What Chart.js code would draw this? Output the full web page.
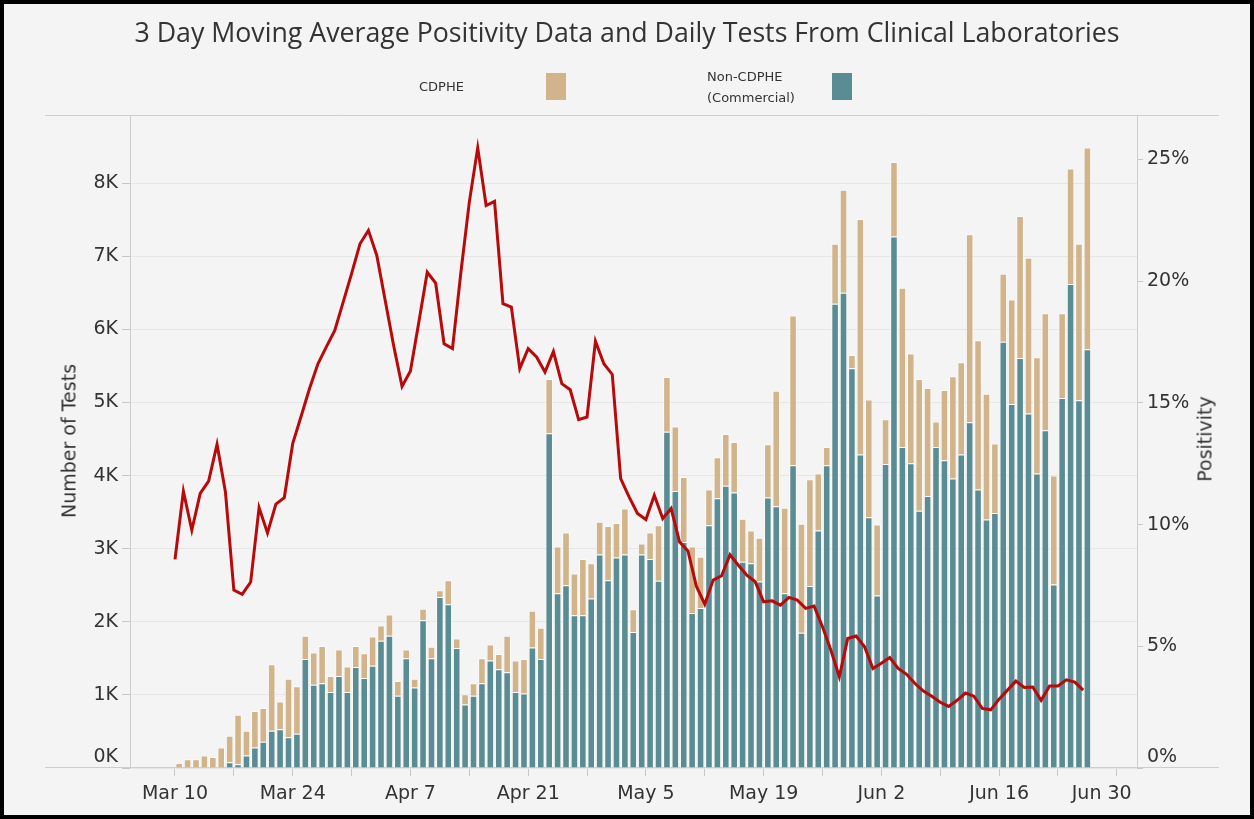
<!DOCTYPE html>
<html>
<head>
<meta charset="utf-8">
<script src="https://cdn.jsdelivr.net/npm/chart.js@4.4.1/dist/chart.umd.min.js"></script>
<style>
    html, body { margin: 0; padding: 0; background: #fff; }
    #frame { position: absolute; left: 0; top: 0; width: 1254px; height: 819px; box-sizing: border-box; border: 4px solid #000; background: #f4f4f4; }
    #chart { position: absolute; left: 0; top: 0; }
    .txt { position: absolute; color: #333; white-space: nowrap; font-family: "DejaVu Sans", sans-serif; }
    #title { left: 0; width: 1254px; top: 20px; text-align: center; font-family: "Open Sans", sans-serif; font-size: 23px; line-height: 23px; }
    .legendText { font-size: 13px; line-height: 21px; }
    .swatch { position: absolute; width: 20px; height: 27px; top: 73px; }
    .axisTitle { font-size: 19px; line-height: 19px; transform: translate(-50%, -50%) rotate(-90deg); }
</style>
</head>
<body>
<div id="frame"></div>
<canvas id="chart" width="1254" height="819"></canvas>
<div class="txt" id="title">3 Day Moving Average Positivity Data and Daily Tests From Clinical Laboratories</div>
<div class="txt legendText" style="left:419px; top:76px;">CDPHE</div>
<div class="swatch" style="left:546px; background:#d1b48a;"></div>
<div class="txt legendText" style="left:707px; top:66px;">Non-CDPHE<br>(Commercial)</div>
<div class="swatch" style="left:832px; background:#5a8c93;"></div>
<div class="txt axisTitle" style="left:69px; top:441px;">Number of Tests</div>
<div class="txt axisTitle" style="left:1205px; top:439px;">Positivity</div>

<script>
// daily tests, Mar 10 .. Jun 26 (one value per day)
const nonCdpheTests = [
    0, 0, 0, 0, 0, 0, 80, 50, 170, 280,
    360, 510, 530, 420, 470, 1490, 1140, 1160, 1040, 1260,
    1040, 1380, 1230, 1400, 1740, 1810, 990, 1500, 1100, 2020,
    1500, 2340, 2240, 1640, 870, 990, 1160, 1470, 1350, 1310,
    1040, 1020, 1650, 1490, 4580, 2390, 2500, 2090, 2090, 2320,
    2920, 2570, 2880, 2920, 1860, 2920, 2860, 2560, 4600, 3790,
    3090, 2120, 2190, 3320, 3690, 3860, 3770, 2820, 2800, 2550,
    3700, 3580, 2390, 4140, 1850, 2490, 3250, 4140, 6350, 6500,
    5470, 4290, 3430, 2360, 4160, 7270, 4390, 4170, 3520, 3720,
    4390, 4210, 3960, 4290, 4730, 3810, 3400, 3490, 5830, 4980,
    5610, 4850, 4030, 4620, 2510, 5060, 6620, 5030, 5730
];
const cdpheTests = [
    70, 120, 120, 170, 150, 280, 360, 680, 340, 500,
    460, 910, 380, 800, 650, 320, 440, 510, 220, 360,
    350, 290, 340, 400, 210, 290, 200, 120, 120, 160,
    160, 90, 330, 130, 140, 170, 340, 220, 210, 500,
    430, 470, 500, 430, 740, 640, 720, 570, 770, 480,
    450, 740, 470, 630, 310, 150, 360, 760, 750, 880,
    890, 910, 700, 490, 560, 710, 690, 590, 450, 600,
    730, 1580, 1170, 2050, 1490, 1460, 780, 250, 820, 1410,
    180, 3220, 1610, 970, 610, 1020, 2180, 1500, 1800, 1480,
    350, 960, 1400, 1260, 2570, 2040, 1720, 950, 930, 1430,
    1940, 2130, 1590, 1600, 1490, 1160, 1580, 2140, 2760
];
// 3 day moving average positivity, percent
const positivity = [
    8.57, 11.37, 9.77, 11.28, 11.79, 13.30, 11.34, 7.31, 7.14, 7.64,
    10.70, 9.66, 10.84, 11.11, 13.33, 14.45, 15.59, 16.61, 17.30, 17.98,
    19.14, 20.31, 21.54, 22.09, 21.06, 19.21, 17.36, 15.68, 16.31, 18.32,
    20.37, 19.92, 17.43, 17.23, 20.37, 23.25, 25.48, 23.11, 23.28, 19.08,
    18.94, 16.41, 17.23, 16.89, 16.27, 17.11, 15.79, 15.54, 14.31, 14.42,
    17.54, 16.61, 16.17, 11.89, 11.14, 10.46, 10.21, 11.21, 10.25, 10.66,
    9.29, 8.92, 7.47, 6.73, 7.72, 7.90, 8.76, 8.33, 7.92, 7.65,
    6.83, 6.87, 6.69, 7.01, 6.90, 6.56, 6.65, 5.80, 4.84, 3.75,
    5.32, 5.42, 4.98, 4.09, 4.30, 4.54, 4.09, 3.85, 3.47, 3.16,
    2.95, 2.70, 2.53, 2.78, 3.08, 2.95, 2.45, 2.39, 2.83, 3.20,
    3.57, 3.31, 3.33, 2.78, 3.37, 3.37, 3.62, 3.53, 3.20
];
// x axis: days since Mar 10
const xTickDays = [0, 7, 14, 21, 28, 35, 42, 49, 56, 63, 70, 77, 84, 91, 98, 105, 112];
const xTickLabels = ['Mar 10', '', 'Mar 24', '', 'Apr 7', '', 'Apr 21', '', 'May 5', '', 'May 19', '', 'Jun 2', '', 'Jun 16', '', 'Jun 30'];
const testTicks = [0, 1000, 2000, 3000, 4000, 5000, 6000, 7000, 8000];
const positivityTicks = [0, 5, 10, 15, 20, 25];

const tickFont = { family: 'DejaVu Sans', size: 19 };
const tickColor = '#333';

// fit the title to the width it takes in the reference
function fitTitle() {
    const el = document.getElementById('title');
    const c = document.createElement('canvas').getContext('2d');
    c.font = '23px "Open Sans"';
    const w = c.measureText(el.textContent).width;
    el.style.fontSize = (23 * 985 / w).toFixed(2) + 'px';
}

const frameLines = {
    id: 'frameLines',
    beforeDatasetsDraw(chart) {
        const { ctx, chartArea } = chart;
        ctx.save();
        ctx.strokeStyle = '#cdcdcd';
        ctx.lineWidth = 1;
        ctx.beginPath();
        ctx.moveTo(45, chartArea.top + 0.5);
        ctx.lineTo(1219, chartArea.top + 0.5);
        ctx.moveTo(45, chartArea.bottom - 0.5);
        ctx.lineTo(1219, chartArea.bottom - 0.5);
        ctx.moveTo(chartArea.left + 0.5, chartArea.top);
        ctx.lineTo(chartArea.left + 0.5, chartArea.bottom);
        ctx.moveTo(chartArea.right + 0.5, chartArea.top);
        ctx.lineTo(chartArea.right + 0.5, chartArea.bottom);
        ctx.stroke();
        ctx.restore();
    }
};

function drawChart() {
    const ctx = document.getElementById('chart').getContext('2d');
    new Chart(ctx, {
        data: {
            datasets: [
                {
                    type: 'line',
                    label: 'Positivity',
                    data: positivity.map((v, i) => ({ x: i, y: v })),
                    yAxisID: 'y1',
                    borderColor: '#b80a0a',
                    borderWidth: 3,
                    pointRadius: 0,
                    tension: 0,
                    order: 0
                },
                {
                    type: 'bar',
                    label: 'Non-CDPHE (Commercial)',
                    data: nonCdpheTests.map((v, i) => ({ x: i + 0.5, y: v })),
                    yAxisID: 'y',
                    stack: 'tests',
                    backgroundColor: '#5a8c93',
                    borderColor: 'rgba(255, 255, 255, 0.6)',
                    borderWidth: 1,
                    barPercentage: 0.9,
                    categoryPercentage: 1,
                    order: 1
                },
                {
                    type: 'bar',
                    label: 'CDPHE',
                    data: cdpheTests.map((v, i) => ({ x: i + 0.5, y: v })),
                    yAxisID: 'y',
                    stack: 'tests',
                    backgroundColor: '#d1b48a',
                    borderColor: 'rgba(255, 255, 255, 0.6)',
                    borderWidth: 1,
                    barPercentage: 0.9,
                    categoryPercentage: 1,
                    order: 1
                }
            ]
        },
        options: {
            responsive: false,
            animation: false,
            layout: { padding: { top: 115, left: 0, right: 0, bottom: 0 } },
            plugins: { legend: { display: false }, tooltip: { enabled: false } },
            scales: {
                x: {
                    type: 'linear',
                    min: -5.35,
                    max: 114.4,
                    offset: false,
                    stacked: true,
                    afterBuildTicks(scale) { scale.ticks = xTickDays.map(v => ({ value: v })); },
                    afterFit(scale) { scale.height = 819 - 768; },
                    ticks: {
                        autoSkip: false,
                        maxRotation: 0,
                        padding: 7,
                        font: tickFont,
                        color: tickColor,
                        callback: (v, i) => i === xTickLabels.length - 1 ? xTickLabels[i] + '     ' : xTickLabels[i]
                    },
                    grid: { offset: false, drawOnChartArea: false, tickLength: 8, tickColor: '#c8c8c8' },
                    border: { display: false }
                },
                y: {
                    position: 'left',
                    stacked: true,
                    min: 0,
                    max: 8933,
                    afterBuildTicks(scale) { scale.ticks = testTicks.map(v => ({ value: v })); },
                    afterFit(scale) { scale.width = 130; },
                    ticks: {
                        padding: 4,
                        font: tickFont,
                        color: tickColor,
                        callback: v => v === 0 ? ['0K', ''] : (v / 1000) + 'K'
                    },
                    grid: { color: '#e6e6e6', tickColor: '#c8c8c8', tickLength: 8 },
                    border: { display: false }
                },
                y1: {
                    position: 'right',
                    min: 0,
                    max: 26.83,
                    afterBuildTicks(scale) { scale.ticks = positivityTicks.map(v => ({ value: v })); },
                    afterFit(scale) { scale.width = 1254 - 1137; },
                    ticks: {
                        padding: 4,
                        font: tickFont,
                        color: tickColor,
                        callback: v => v === 0 ? ['0%', ''] : v + '%'
                    },
                    grid: { drawOnChartArea: false, tickColor: '#c8c8c8', tickLength: 6 },
                    border: { display: false }
                }
            }
        },
        plugins: [frameLines]
    });
}

fitTitle();
drawChart();
</script>
</body>
</html>
